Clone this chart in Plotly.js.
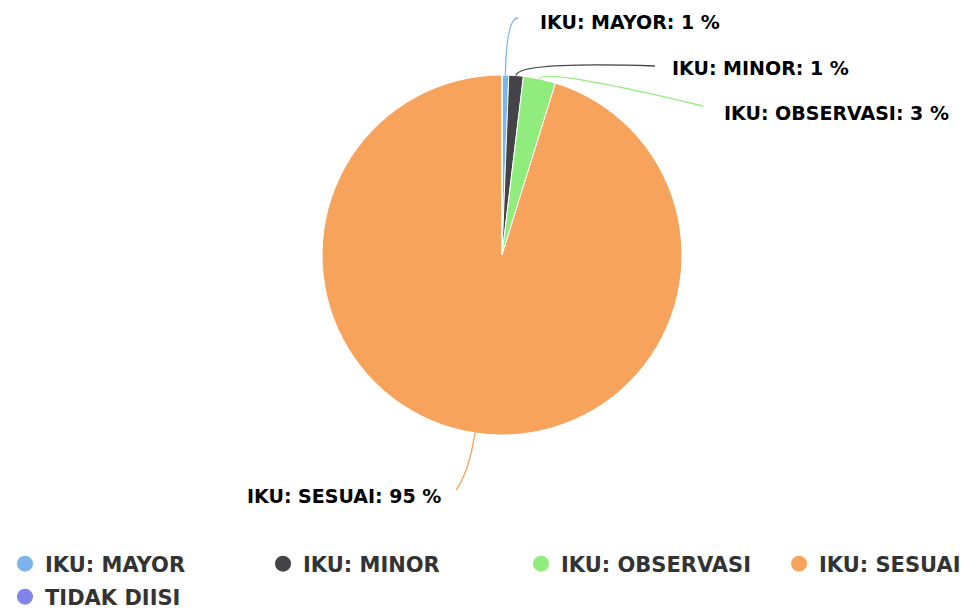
<!DOCTYPE html>
<html>
<head>
<meta charset="utf-8">
<script src="https://cdn.plot.ly/plotly-3.0.1.min.js"></script>
<style>html,body{margin:0;padding:0;background:#fff;}#chart{width:963px;height:613px;}</style>
</head>
<body>
<div id="chart"></div>
<script>
// ---- data ----
const categories = ['IKU: MAYOR', 'IKU: MINOR', 'IKU: OBSERVASI', 'IKU: SESUAI', 'TIDAK DIISI'];
const percentValues = [0.6, 1.3, 2.9, 95.2, 0];
const sliceColors = ['#7cb5ec', '#434348', '#90ed7d', '#f7a35c', '#8085e9'];

// ---- layout config (pixels) ----
const W = 963, H = 613;
const pie = {cx: 502, cy: 255, r: 180};
const labelCfg = [
  {x: 538, y: 22, ex: 518, ey: 18, corner: 57, anchor: 'left'},
  {x: 670, y: 68, ex: 655, ey: 66, corner: 14, anchor: 'left'},
  {x: 722, y: 113, ex: 703, ey: 106, corner: 12, anchor: 'left'},
  {x: 443, y: 496, ex: 456, ey: 490, anchor: 'right', corner: 40},
  null
];
const legendSlots = [[5, 564], [263, 564], [521, 564], [779, 564], [5, 597]];
const labelFont = {family: 'DejaVu Sans, sans-serif', size: 19, color: '#000'};
const legendFont = {family: 'DejaVu Sans, sans-serif', size: 21, color: '#333333'};

const px = x => x / W;
const py = y => 1 - y / H;

const total = percentValues.reduce((a, b) => a + b, 0);
const shapes = [];
const annotations = [];
let cum = 0;
percentValues.forEach((v, i) => {
  const mid = (cum + v / 2) / total * 2 * Math.PI;
  cum += v;
  const cfg = labelCfg[i];
  if (!cfg || v <= 0) return;
  const dx = Math.sin(mid), dy = -Math.cos(mid);
  const ex0 = pie.cx + pie.r * dx, ey0 = pie.cy + pie.r * dy;
  const kx = ex0 + dx * cfg.corner, ky = ey0 + dy * cfg.corner;
  shapes.push({
    type: 'path', xref: 'paper', yref: 'paper',
    path: `M ${px(ex0)},${py(ey0)} Q ${px(kx)},${py(ky)} ${px(cfg.ex)},${py(cfg.ey)}`,
    line: {color: sliceColors[i], width: 1.3}
  });
  annotations.push({
    xref: 'paper', yref: 'paper', x: px(cfg.x), y: py(cfg.y),
    xanchor: cfg.anchor, yanchor: 'middle', showarrow: false,
    text: '<b>' + categories[i] + ': ' + Math.round(v / total * 100) + ' %</b>',
    font: labelFont
  });
});

const traces = [{
  type: 'pie',
  labels: categories,
  values: percentValues,
  sort: false,
  direction: 'clockwise',
  rotation: 0,
  textinfo: 'none',
  hoverinfo: 'label+percent',
  marker: {colors: sliceColors, line: {color: '#ffffff', width: 1}},
  showlegend: false,
  domain: {
    x: [px(pie.cx - pie.r), px(pie.cx + pie.r)],
    y: [py(pie.cy + pie.r), py(pie.cy - pie.r)]
  }
}];

const layout = {
  width: W, height: H,
  margin: {l: 0, r: 0, t: 0, b: 0, autoexpand: false},
  paper_bgcolor: '#ffffff', plot_bgcolor: '#ffffff',
  xaxis: {visible: false}, yaxis: {visible: false},
  showlegend: true,
  shapes: shapes,
  annotations: annotations
};

categories.forEach((c, i) => {
  const lg = i === 0 ? 'legend' : 'legend' + (i + 1);
  traces.push({
    type: 'scatter', mode: 'markers', x: [null], y: [null],
    name: '<b>' + c + '</b>',
    legend: lg,
    marker: {color: sliceColors[i], size: 18, symbol: 'circle'},
    showlegend: true, hoverinfo: 'skip'
  });
  layout[lg] = {
    xref: 'container', yref: 'container',
    x: px(legendSlots[i][0]), xanchor: 'left',
    y: py(legendSlots[i][1]), yanchor: 'middle',
    font: legendFont, itemwidth: 30, bgcolor: 'rgba(0,0,0,0)'
  };
});

Plotly.newPlot('chart', traces, layout, {displayModeBar: false});
</script>
</body>
</html>
